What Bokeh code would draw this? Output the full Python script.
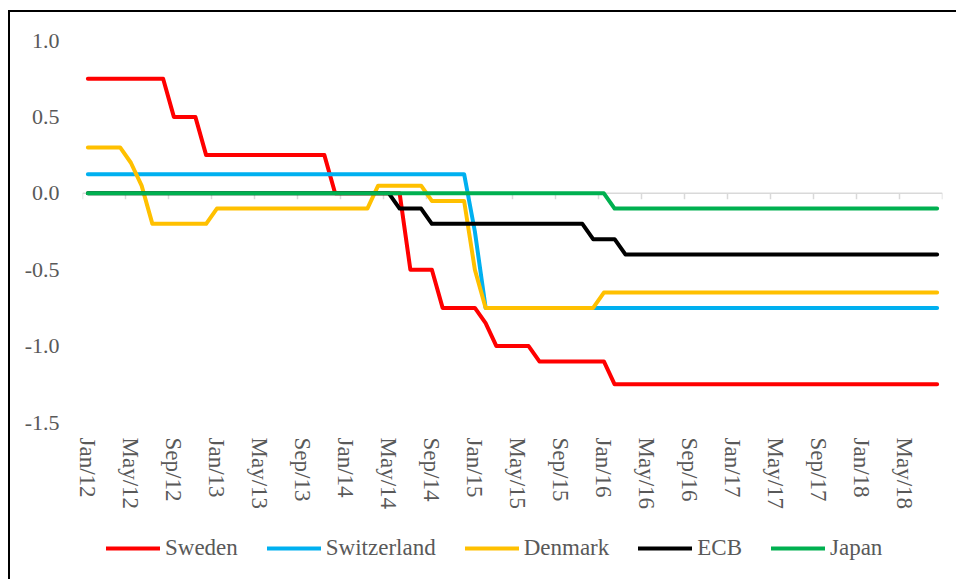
from bokeh.plotting import figure
from bokeh.layouts import column
from bokeh.models import (FixedTicker, Span, Legend, LegendItem, ColumnDataSource, Range1d)
from bokeh.embed import file_html
from bokeh.resources import INLINE

# ---------------- data (monthly, Jan 2012 .. Aug 2018) ----------------
month_names = ["Jan", "Feb", "Mar", "Apr", "May", "Jun",
               "Jul", "Aug", "Sep", "Oct", "Nov", "Dec"]
years = [12, 13, 14, 15, 16, 17, 18]
months = [f"{m}/{y}" for y in years for m in month_names][:80]

sweden = [0.75, 0.75, 0.75, 0.75, 0.75, 0.75, 0.75, 0.75, 0.5, 0.5,
          0.5, 0.25, 0.25, 0.25, 0.25, 0.25, 0.25, 0.25, 0.25, 0.25,
          0.25, 0.25, 0.25, 0.0, 0.0, 0.0, 0.0, 0.0, 0.0, 0.0,
          -0.5, -0.5, -0.5, -0.75, -0.75, -0.75, -0.75, -0.85, -1.0, -1.0,
          -1.0, -1.0, -1.1, -1.1, -1.1, -1.1, -1.1, -1.1, -1.1, -1.25,
          -1.25, -1.25, -1.25, -1.25, -1.25, -1.25, -1.25, -1.25, -1.25, -1.25,
          -1.25, -1.25, -1.25, -1.25, -1.25, -1.25, -1.25, -1.25, -1.25, -1.25,
          -1.25, -1.25, -1.25, -1.25, -1.25, -1.25, -1.25, -1.25, -1.25, -1.25]

switzerland = [0.125, 0.125, 0.125, 0.125, 0.125, 0.125, 0.125, 0.125, 0.125, 0.125,
               0.125, 0.125, 0.125, 0.125, 0.125, 0.125, 0.125, 0.125, 0.125, 0.125,
               0.125, 0.125, 0.125, 0.125, 0.125, 0.125, 0.125, 0.125, 0.125, 0.125,
               0.125, 0.125, 0.125, 0.125, 0.125, 0.125, -0.25, -0.75, -0.75, -0.75,
               -0.75, -0.75, -0.75, -0.75, -0.75, -0.75, -0.75, -0.75, -0.75, -0.75,
               -0.75, -0.75, -0.75, -0.75, -0.75, -0.75, -0.75, -0.75, -0.75, -0.75,
               -0.75, -0.75, -0.75, -0.75, -0.75, -0.75, -0.75, -0.75, -0.75, -0.75,
               -0.75, -0.75, -0.75, -0.75, -0.75, -0.75, -0.75, -0.75, -0.75, -0.75]

denmark = [0.3, 0.3, 0.3, 0.3, 0.2, 0.05, -0.2, -0.2, -0.2, -0.2,
           -0.2, -0.2, -0.1, -0.1, -0.1, -0.1, -0.1, -0.1, -0.1, -0.1,
           -0.1, -0.1, -0.1, -0.1, -0.1, -0.1, -0.1, 0.05, 0.05, 0.05,
           0.05, 0.05, -0.05, -0.05, -0.05, -0.05, -0.5, -0.75, -0.75, -0.75,
           -0.75, -0.75, -0.75, -0.75, -0.75, -0.75, -0.75, -0.75, -0.65, -0.65,
           -0.65, -0.65, -0.65, -0.65, -0.65, -0.65, -0.65, -0.65, -0.65, -0.65,
           -0.65, -0.65, -0.65, -0.65, -0.65, -0.65, -0.65, -0.65, -0.65, -0.65,
           -0.65, -0.65, -0.65, -0.65, -0.65, -0.65, -0.65, -0.65, -0.65, -0.65]

ecb = [0.0, 0.0, 0.0, 0.0, 0.0, 0.0, 0.0, 0.0, 0.0, 0.0,
       0.0, 0.0, 0.0, 0.0, 0.0, 0.0, 0.0, 0.0, 0.0, 0.0,
       0.0, 0.0, 0.0, 0.0, 0.0, 0.0, 0.0, 0.0, 0.0, -0.1,
       -0.1, -0.1, -0.2, -0.2, -0.2, -0.2, -0.2, -0.2, -0.2, -0.2,
       -0.2, -0.2, -0.2, -0.2, -0.2, -0.2, -0.2, -0.3, -0.3, -0.3,
       -0.4, -0.4, -0.4, -0.4, -0.4, -0.4, -0.4, -0.4, -0.4, -0.4,
       -0.4, -0.4, -0.4, -0.4, -0.4, -0.4, -0.4, -0.4, -0.4, -0.4,
       -0.4, -0.4, -0.4, -0.4, -0.4, -0.4, -0.4, -0.4, -0.4, -0.4]

japan = [0.0, 0.0, 0.0, 0.0, 0.0, 0.0, 0.0, 0.0, 0.0, 0.0,
         0.0, 0.0, 0.0, 0.0, 0.0, 0.0, 0.0, 0.0, 0.0, 0.0,
         0.0, 0.0, 0.0, 0.0, 0.0, 0.0, 0.0, 0.0, 0.0, 0.0,
         0.0, 0.0, 0.0, 0.0, 0.0, 0.0, 0.0, 0.0, 0.0, 0.0,
         0.0, 0.0, 0.0, 0.0, 0.0, 0.0, 0.0, 0.0, 0.0, -0.1,
         -0.1, -0.1, -0.1, -0.1, -0.1, -0.1, -0.1, -0.1, -0.1, -0.1,
         -0.1, -0.1, -0.1, -0.1, -0.1, -0.1, -0.1, -0.1, -0.1, -0.1,
         -0.1, -0.1, -0.1, -0.1, -0.1, -0.1, -0.1, -0.1, -0.1, -0.1]

series_names = ["Sweden", "Switzerland", "Denmark", "ECB", "Japan"]
series_values = [sweden, switzerland, denmark, ecb, japan]
series_colors = ["#FF0000", "#00B0F0", "#FFC000", "#000000", "#00B050"]

y_ticks = [-1.5, -1.0, -0.5, 0.0, 0.5, 1.0]
label_every = 4

# ---------------- main figure ----------------
FONT = "Liberation Serif"
TEXT = "#595959"
LW = 4
n = len(months)
x = list(range(n))

p = figure(width=946, height=508, output_backend="svg", toolbar_location=None,
           x_range=(-0.5, n - 0.5), y_range=(min(y_ticks), max(y_ticks)),
           min_border_left=72, min_border_right=14, min_border_top=28,
           min_border_bottom=98)
p.outline_line_color = None
p.background_fill_color = "white"
p.border_fill_color = "white"
p.xgrid.visible = False
p.ygrid.visible = False

# y axis
p.yaxis.ticker = FixedTicker(ticks=y_ticks)
p.yaxis.major_label_overrides = {t: f"{t:.1f}" for t in y_ticks}
p.yaxis.axis_line_color = None
p.yaxis.major_tick_line_color = None
p.yaxis.minor_tick_line_color = None
p.yaxis.major_label_standoff = 17
p.yaxis.major_label_text_font = FONT
p.yaxis.major_label_text_font_size = "22px"
p.yaxis.major_label_text_color = TEXT

# x axis (labels at bottom)
tick_pos = x[::label_every]
p.xaxis.ticker = FixedTicker(ticks=tick_pos)
p.xaxis.major_label_overrides = {i: months[i] for i in tick_pos}
p.xaxis.major_label_orientation = "vertical"
p.xaxis.axis_line_color = None
p.xaxis.major_tick_line_color = None
p.xaxis.minor_tick_line_color = None
p.xaxis.major_label_standoff = 9
p.xaxis.major_label_text_font = FONT
p.xaxis.major_label_text_font_size = "23px"
p.xaxis.major_label_text_color = TEXT

# horizontal category axis line at zero with tick marks between categories
zero = Span(location=0, dimension="width", line_color="#D9D9D9", line_width=1.5,
            level="underlay")
p.add_layout(zero)
bounds = [i - 0.5 for i in range(0, n + 1, label_every)]
tick_len = 6 / 153.0
p.segment(x0=bounds, x1=bounds, y0=[0] * len(bounds), y1=[-tick_len] * len(bounds),
          line_color="#D9D9D9", line_width=1.5, level="underlay")

for name, vals, col in zip(series_names, series_values, series_colors):
    src = ColumnDataSource(dict(x=x, y=vals))
    p.line("x", "y", source=src, line_color=col, line_width=LW,
           line_cap="round", line_join="round")

# ---------------- legend strip ----------------
# the same series are drawn here outside the visible y range, only to key the legend
lg = figure(width=946, height=59, output_backend="svg", toolbar_location=None,
            x_axis_type=None, y_axis_type=None,
            x_range=Range1d(-0.5, n - 0.5), y_range=Range1d(10, 11),
            min_border_left=0, min_border_right=0, min_border_top=0,
            min_border_bottom=0)
lg.grid.visible = False
lg.outline_line_color = None
lg.background_fill_color = "white"
lg.border_fill_color = "white"

items = []
for name, vals, col in zip(series_names, series_values, series_colors):
    r = lg.line(x=x, y=vals, line_color=col, line_width=LW, line_cap="round")
    items.append(LegendItem(label=name, renderers=[r]))

legend = Legend(items=items, orientation="horizontal", location=(24, 18),
                label_text_font=FONT, label_text_font_size="23px",
                label_text_color=TEXT, glyph_width=54, glyph_height=20,
                label_standoff=5, spacing=29, padding=5, margin=0,
                border_line_color=None, background_fill_alpha=0)
lg.add_layout(legend, "center")

layout = column(p, lg, spacing=0)
layout.styles = {"margin-left": "8px", "margin-top": "10px",
                 "border-left": "2px solid black", "border-top": "2px solid black"}

open("out.html", "w").write(file_html(layout, INLINE))
